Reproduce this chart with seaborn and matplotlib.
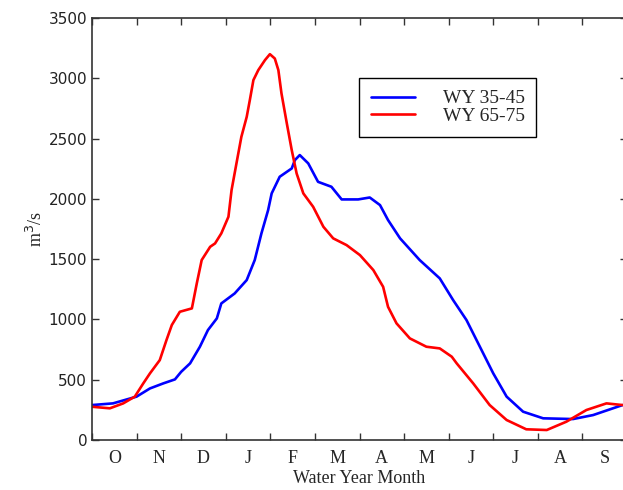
import numpy as np
import pandas as pd
import seaborn as sns
import matplotlib.pyplot as plt

# --- dati (x in mesi dall'inizio dell'anno idrologico) ---
months = ['O', 'N', 'D', 'J', 'F', 'M', 'A', 'M', 'J', 'J', 'A', 'S']

x_35_45 = [0.0, 0.47, 1.0, 1.3, 1.6, 1.86, 2.0, 2.2, 2.42, 2.6, 2.8, 2.9, 3.2, 3.47,
           3.65, 3.8, 3.95, 4.03, 4.21, 4.37, 4.48, 4.55, 4.66, 4.85, 5.07, 5.37,
           5.6, 5.97, 6.23, 6.46, 6.64, 6.91, 7.35, 7.8, 8.1, 8.4, 8.7, 9.0, 9.3,
           9.67, 10.12, 10.79, 11.24, 11.9]
q_35_45 = [290, 304, 360, 428, 470, 503, 566, 636, 774, 912, 1009, 1133, 1216, 1327,
           1493, 1714, 1907, 2046, 2184, 2225, 2253, 2322, 2364, 2295, 2142, 2101,
           1996, 1996, 2012, 1949, 1825, 1673, 1493, 1341, 1161, 995, 774, 553, 360,
           235, 180, 174, 207, 290]

x_65_75 = [0.0, 0.4, 0.7, 0.96, 1.15, 1.3, 1.52, 1.67, 1.79, 1.97, 2.24, 2.35, 2.46,
           2.65, 2.76, 2.9, 3.06, 3.13, 3.24, 3.35, 3.47, 3.54, 3.62, 3.73, 3.88,
           3.99, 4.1, 4.18, 4.25, 4.37, 4.48, 4.59, 4.74, 4.96, 5.19, 5.41, 5.71,
           6.01, 6.31, 6.53, 6.64, 6.83, 7.13, 7.5, 7.8, 8.07, 8.18, 8.55, 8.92,
           9.3, 9.74, 10.2, 10.64, 11.09, 11.54, 11.9]
q_65_75 = [276, 263, 304, 360, 470, 553, 663, 829, 954, 1064, 1092, 1299, 1493,
           1603, 1631, 1714, 1852, 2073, 2295, 2515, 2681, 2820, 2986, 3069, 3152,
           3201, 3165, 3069, 2875, 2626, 2405, 2211, 2046, 1935, 1769, 1673, 1617,
           1534, 1410, 1271, 1105, 968, 843, 774, 760, 691, 636, 470, 290,
           166, 89, 83, 152, 249, 304, 290]

df = pd.concat([
    pd.DataFrame({'mese': x_35_45, 'portata': q_35_45, 'serie': 'WY 35-45'}),
    pd.DataFrame({'mese': x_65_75, 'portata': q_65_75, 'serie': 'WY 65-75'}),
])

# --- grafico ---
sns.set_style("ticks")
plt.rcParams['font.family'] = ['DejaVu Sans']

fig = plt.figure(figsize=(6.23, 4.90), dpi=100)
ax = fig.add_axes([0.1477, 0.102, 0.8587, 0.861])

sns.lineplot(data=df, x='mese', y='portata', hue='serie', sort=False,
             palette={'WY 35-45': '#0000ff', 'WY 65-75': '#ff0000'},
             linewidth=1.9, ax=ax, legend=True)

ax.set_xlim(0, 12)
ax.set_ylim(0, 3500)
ax.set_yticks(np.arange(0, 3501, 500))
ax.set_xticks(np.arange(0, 13))
ax.set_xticklabels([])
ax.set_xticks(np.arange(0.5, 12, 1), minor=True)
ax.set_xticklabels(months, minor=True, family='Liberation Serif', fontsize=13)
ax.tick_params(axis='x', which='minor', length=0, pad=7)
ax.tick_params(axis='both', which='major', direction='in', length=5,
               top=True, right=True, width=1, color='#333333')
ax.tick_params(axis='y', labelsize=11, labelcolor='#222222')

for s in ax.spines.values():
    s.set_color('#333333')
    s.set_linewidth(1.2)

ax.set_xlabel('Water Year Month', family='Liberation Serif', fontsize=13, labelpad=2)
ax.set_ylabel('m$^3$/s', family='Liberation Serif', fontsize=13, labelpad=2)

# legenda con box squadrato, come nell'originale
leg = ax.legend(loc='upper left', bbox_to_anchor=(0.499, 0.858), frameon=True,
                fancybox=False, edgecolor='black', framealpha=1,
                prop={'family': 'Liberation Serif', 'size': 14},
                handlelength=2.3, handletextpad=1.4, labelspacing=0.0,
                borderpad=0.6, borderaxespad=0)
leg.get_frame().set_linewidth(1.0)

plt.savefig('out.png', dpi=100)
